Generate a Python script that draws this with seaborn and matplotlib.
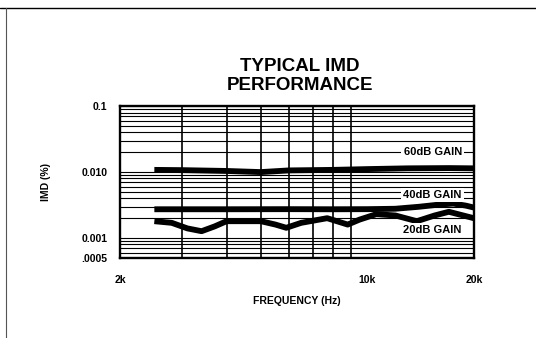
import pandas as pd
import seaborn as sns
import matplotlib.pyplot as plt
from matplotlib.lines import Line2D
from matplotlib.ticker import FixedLocator, LogLocator, NullFormatter

# curves (frequency in Hz, IMD in %)
freq_60 = [2500, 3000, 4000, 5000, 6000, 8000, 10000, 13000, 17000, 20000]
imd_60 = [0.0108, 0.0107, 0.0104, 0.0100, 0.0106, 0.0108, 0.0111, 0.0114, 0.0115, 0.0114]

freq_40 = [2500, 4000, 6000, 8000, 10000, 12000, 14000, 16000, 17500, 19000, 20000]
imd_40 = [0.00273, 0.00273, 0.00274, 0.00273, 0.00274, 0.00278, 0.00298, 0.00322, 0.00333, 0.00310, 0.00290]

freq_20 = [2500, 2800, 3100, 3400, 3700, 4000, 5000, 5500, 5900, 6500, 7700,
           8800, 9500, 10600, 12000, 13800, 15500, 17000, 20000]
imd_20 = [0.0018, 0.0017, 0.0014, 0.00127, 0.0015, 0.0018, 0.0018, 0.0016, 0.00143,
          0.0017, 0.0020, 0.0016, 0.0019, 0.0023, 0.0022, 0.0018, 0.0022, 0.0025, 0.0020]

gain_labels = ["60dB GAIN", "40dB GAIN", "20dB GAIN"]
label_pos = [(15300, 0.0201), (15300, 0.00454), (15300, 0.00132)]

x_ticks = [2000, 10000, 20000]
x_ticklabels = ["2k", "10k", "20k"]
x_grid = [3000, 4000, 5000, 6000, 7000, 8000, 9000]
y_ticks = [0.0005, 0.001, 0.01, 0.1]
y_ticklabels = [".0005", "0.001", "0.010", "0.1"]

df = pd.concat([
    pd.DataFrame({"freq": freq_60, "imd": imd_60, "gain": "60dB"}),
    pd.DataFrame({"freq": freq_40, "imd": imd_40, "gain": "40dB"}),
    pd.DataFrame({"freq": freq_20, "imd": imd_20, "gain": "20dB"}),
])

sns.set_style("white")
plt.rcParams['font.family'] = ['Liberation Sans', 'DejaVu Sans']
plt.rcParams['font.weight'] = 'bold'
for key in ['text.color', 'axes.labelcolor', 'xtick.color', 'ytick.color']:
    plt.rcParams[key] = 'black'

fig = plt.figure(figsize=(5.36, 3.38), dpi=100)
ax = fig.add_axes([0.224, 0.237, 0.66, 0.449])

sns.lineplot(data=df, x="freq", y="imd", hue="gain", sort=False, estimator=None,
             palette={"60dB": "black", "40dB": "black", "20dB": "black"},
             linewidth=4.2, legend=False, ax=ax, solid_capstyle="butt")

ax.set_xscale("log")
ax.set_yscale("log")
ax.set_xlim(2000, 20000)
ax.set_ylim(0.0005, 0.1)

ax.xaxis.set_major_locator(FixedLocator(x_ticks))
ax.set_xticklabels(x_ticklabels)
ax.xaxis.set_minor_locator(FixedLocator(x_grid))
ax.xaxis.set_minor_formatter(NullFormatter())
ax.yaxis.set_major_locator(FixedLocator(y_ticks))
ax.set_yticklabels(y_ticklabels)
ax.yaxis.set_minor_locator(LogLocator(base=10, subs=range(2, 10)))
ax.yaxis.set_minor_formatter(NullFormatter())

ax.tick_params(which="both", length=0, labelsize=7.5)
ax.tick_params(axis="x", pad=12)
ax.tick_params(axis="y", pad=9)

ax.grid(axis="x", which="minor", color="black", linewidth=1.2)
ax.grid(axis="y", which="both", color="black", linewidth=0.8)
ax.set_axisbelow(True)
for sp in ax.spines.values():
    sp.set_linewidth(1.7)
    sp.set_color("black")

for txt, (fx, fy) in zip(gain_labels, label_pos):
    ax.text(fx, fy, txt, ha="center", va="center", fontsize=8, fontweight="bold",
            bbox=dict(facecolor="white", edgecolor="none", pad=1.5), zorder=5)

ax.set_xlabel("FREQUENCY (Hz)", fontsize=7.5, fontweight="bold", labelpad=8)
ax.set_ylabel("IMD (%)", fontsize=7.5, fontweight="bold", labelpad=22)

fig.text(0.56, 0.775, "TYPICAL IMD\nPERFORMANCE", ha="center", va="center",
         fontsize=13.5, fontweight="bold", linespacing=1.15)

# scanned page border
fig.add_artist(Line2D([0, 1], [0.976, 0.976], color="black", linewidth=1.0))
fig.add_artist(Line2D([0.011, 0.011], [0, 0.976], color="#555555", linewidth=0.8))

fig.savefig("out.png", dpi=100)
